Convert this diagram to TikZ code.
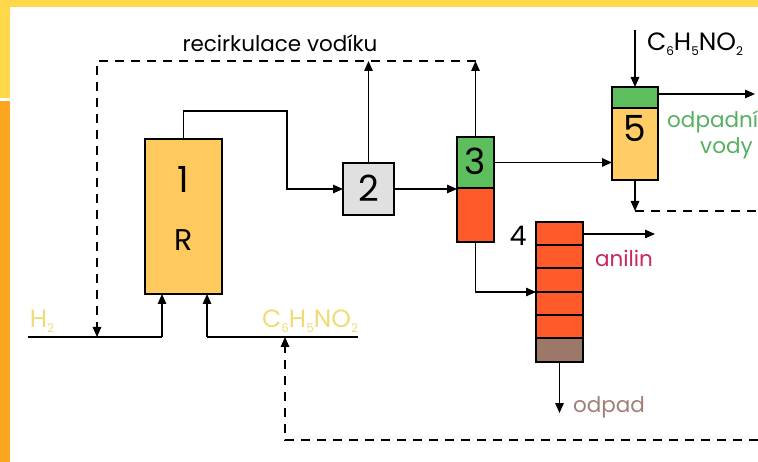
\documentclass[tikz,border=0pt]{standalone}
\usepackage{fontspec}
\setmainfont{Poppins}
\usetikzlibrary{arrows.meta}
\definecolor{topyel}{HTML}{FFD94A}
\definecolor{leftor}{HTML}{FBA61E}
\definecolor{reac}{HTML}{FFC95E}
\definecolor{grayb}{HTML}{E0E0E0}
\definecolor{greenb}{HTML}{5CBE5C}
\definecolor{redb}{HTML}{FF5A2A}
\definecolor{brownb}{HTML}{9C7868}
\definecolor{fivel}{HTML}{FFCC66}
\definecolor{paleyel}{HTML}{EDDC78}
\definecolor{anil}{HTML}{C8285A}
\definecolor{odp}{HTML}{A08078}
\definecolor{vodg}{HTML}{55B060}
\tikzset{
  unit/.style={draw=black, line width=2.4pt, inner sep=0pt, outer sep=0pt},
  conn/.style={line width=1.4pt, -{Triangle[length=10pt,width=8.5pt]}},
  plain/.style={line width=1.4pt},
  dashconn/.style={line width=1.4pt, dash pattern=on 9pt off 7pt},
  big/.style={font=\fontsize{36}{36}\selectfont, inner sep=0pt},
  mid/.style={font=\fontsize{30}{30}\selectfont, inner sep=0pt},
  lab/.style={font=\fontsize{21.5}{21.5}\selectfont, inner sep=0pt},
  form/.style={font=\fontsize{25}{25}\selectfont, inner sep=0pt},
}
\newcommand{\ssub}[1]{\raisebox{-0.2em}{\fontsize{12}{12}\selectfont #1}}
\begin{document}
\begin{tikzpicture}[x=1pt,y=-1pt]
\useasboundingbox (0,0) rectangle (758,462);
\clip (0,0) rectangle (758,462);
% frame bands
\fill[topyel] (0,0) rectangle (758,7);
\fill[topyel] (0,0) rectangle (10,98);
\fill[leftor] (0,101) rectangle (10,462);
% units
\node[unit, fill=reac, minimum width=77pt, minimum height=155pt] (R) at (183.5,216.5) {};
\node[big] (n1) at (183.5,179) {1};
\node[mid] (nR) at (183.5,240) {R};
\node[unit, fill=grayb, minimum width=51pt, minimum height=52pt] (b2) at (368.5,189) {};
\node[big] (n2) at (368.5,188) {2};
\node[unit, fill=redb, minimum width=37pt, minimum height=54pt] (c3r) at (475.5,215) {};
\node[unit, fill=greenb, minimum width=37pt, minimum height=51pt] (c3g) at (475.5,162.5) {};
\node[big] (n3) at (475.5,161) {3};
\node[unit, fill=redb, minimum width=47pt, minimum height=140pt] (c4) at (559.5,292) {};
\node[unit, fill=brownb, minimum width=47pt, minimum height=24pt] (c4b) at (559.5,350) {};
\foreach \yy in {245,268,292,315} \draw[line width=2pt] (c4.west |- 0,\yy) -- (c4.east |- 0,\yy);
\node[font=\fontsize{27}{27}\selectfont, inner sep=0pt] (n4) at (518,236) {4};
\node[unit, fill=fivel, minimum width=46pt, minimum height=93pt] (b5) at (635,133.5) {};
\node[unit, fill=greenb, minimum width=46pt, minimum height=21pt] (b5g) at (635,97.5) {};
\node[big] (n5) at (635,129) {5};
% coordinates
\coordinate (rec) at (0,61);
\coordinate (recL) at (97,61);
\coordinate (h2L) at (28,337);
\coordinate (h2in) at (162,337);
\coordinate (nbR) at (358,337);
\coordinate (nbin) at (207,337);
\coordinate (retA) at (285,337);
\coordinate (ret1) at (285,440);
\coordinate (ret2) at (790,440);
\coordinate (ret3) at (790,211);
\coordinate (b5d) at (635,211);
\coordinate (b5top) at (635,30);
\coordinate (b5out) at (755,94);
\coordinate (anout) at (655,234);
\coordinate (odout) at (559.5,413);
% connectors
\draw[conn] (R.north) -- (183.5,111) -- (287,111) -- (287,189) -- (b2.west);
\draw[conn] (b2.north) -- (b2.north |- rec);
\draw[conn] (c3g.north) -- (c3g.north |- rec);
\draw[dashconn, -{Triangle[length=10pt,width=8.5pt]}] (c3g.north |- rec) -- (recL) -- (recL |- h2L);
\draw[plain] (h2L) -- (h2in);
\draw[conn] (h2in) -- (h2in |- R.south);
\draw[plain] (nbR) -- (nbin);
\draw[conn] (nbin) -- (nbin |- R.south);
\draw[conn] (b2.east) -- (b2.east -| c3g.west);
\draw[conn] (c3g.east) -- (c3g.east -| b5.west);
\draw[conn] (c3r.south) -- (475.5,292) -- (c4.west);
\draw[conn] (c4.east |- anout) -- (anout);
\draw[conn] (c4b.south) -- (odout);
\draw[conn] (b5top) -- (b5g.north);
\draw[conn] (b5g.east |- b5out) -- (b5out);
\draw[conn] (b5.south) -- (b5d);
\draw[dashconn, -{Triangle[length=10pt,width=8.5pt]}] (b5d) -- (ret3) -- (ret2) -- (ret1) -- (retA);
% labels
\node[lab] (lrec) at (280,43) {recirkulace vodíku};
\node[form] (lnb1) at (695,44) {C\ssub{6}H\ssub{5}NO\ssub{2}};
\node[form, text=paleyel] (lh2) at (42,321) {H\ssub{2}};
\node[form, text=paleyel] (lnb2) at (310,321) {C\ssub{6}H\ssub{5}NO\ssub{2}};
\node[lab, text=anil] (lan) at (624,258) {anilin};
\node[lab, text=odp] (lod) at (609,407) {odpad};
\node[lab, text=vodg, anchor=west] (lov1) at (667,122) {odpadní};
\node[lab, text=vodg, anchor=west] (lov2) at (700,148) {vody};
\end{tikzpicture}
\end{document}
